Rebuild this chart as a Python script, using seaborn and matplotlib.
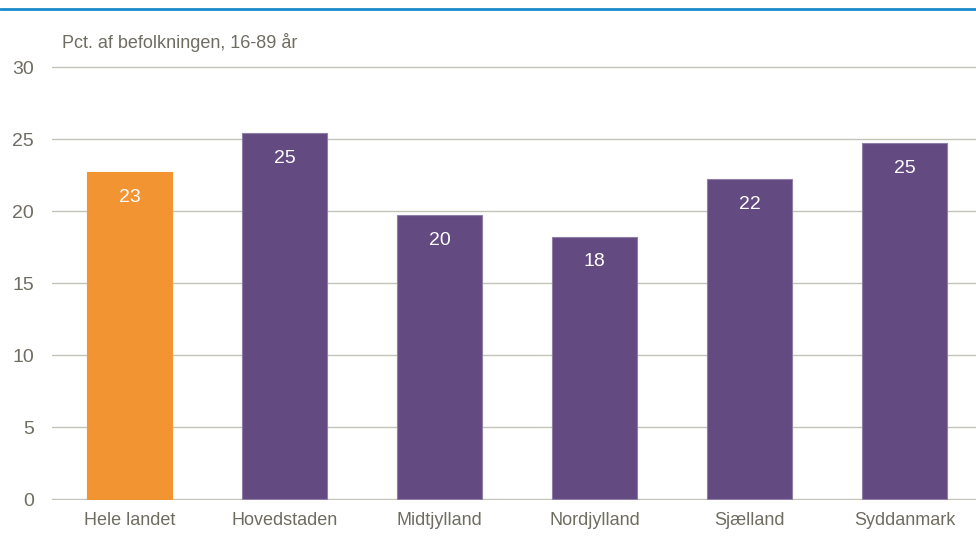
import matplotlib
matplotlib.use("Agg")
import matplotlib.pyplot as plt
import seaborn as sns
import pandas as pd
from matplotlib.lines import Line2D

regions = ["Hele landet", "Hovedstaden", "Midtjylland", "Nordjylland", "Sjælland", "Syddanmark"]
values = [22.7, 25.4, 19.7, 18.2, 22.2, 24.7]
bar_colors = ["#f39433", "#634a80", "#634a80", "#634a80", "#634a80", "#634a80"]
y_ticks = [0, 5, 10, 15, 20, 25, 30]
y_label = "Pct. af befolkningen, 16-89 år"

sns.set_style("white")
plt.rcParams['font.family'] = ['Liberation Sans Narrow', 'Liberation Sans', 'DejaVu Sans']
text_color = "#6f6d62"
grid_color = "#c4c3b8"

df = pd.DataFrame({"region": regions, "value": values})

W, H = 976, 539
fig = plt.figure(figsize=(W / 100, H / 100), dpi=100)
# axes: x from 52px to right edge, y zero at 499px
px = 155.0
scale = 14.4
ymin, ymax = -0.1, 30.2
left = 52 / W
width = (W - 52) / W
bottom = (H - 499 - (-ymin) * scale) / H
height = (ymax - ymin) * scale / H
ax = fig.add_axes([left, bottom, width, height])

sns.barplot(data=df, x="region", y="value", hue="region", palette=bar_colors,
            saturation=1, width=0.55, legend=False, ax=ax,
            edgecolor="#8f7fa6", linewidth=0.8, zorder=3)
ax.patches[0].set_edgecolor("#f39433")

ax.set_xlim(-0.5, -0.5 + (W - 52) / px)
ax.set_ylim(ymin, ymax)
ax.set_yticks(y_ticks)
ax.yaxis.grid(True, color=grid_color, linewidth=1.0, zorder=0)
ax.set_axisbelow(True)
for s in ax.spines.values():
    s.set_visible(False)
ax.tick_params(axis="y", length=0, pad=13, labelsize=14, labelcolor=text_color)
ax.tick_params(axis="x", length=0, pad=8, labelsize=13, labelcolor=text_color)
ax.set_xlabel("")
ax.set_ylabel("")

for i, v in enumerate(values):
    ax.annotate(f"{round(v):d}", (i, v), xytext=(0, -18), textcoords="offset points",
                ha="center", va="center", color="white", fontsize=14)

fig.text(62 / W, (H - 42) / H, y_label, ha="left", va="center", color=text_color, fontsize=13)

fig.add_artist(Line2D([0, 1], [(H - 9) / H, (H - 9) / H], transform=fig.transFigure,
                      color="#1a8bcc", linewidth=2))

fig.savefig("out.png", dpi=100)
